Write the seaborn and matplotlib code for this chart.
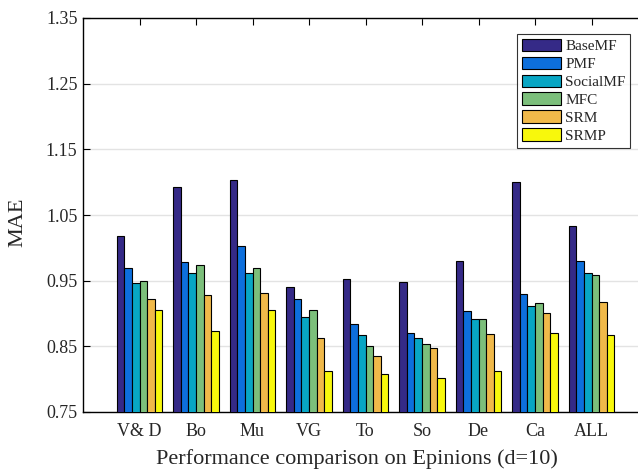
import numpy as np
import pandas as pd
import matplotlib
matplotlib.use("Agg")
import matplotlib.pyplot as plt
import seaborn as sns

categories = ["V& D", "Bo", "Mu", "VG", "To", "So", "De", "Ca", "ALL"]
methods = ["BaseMF", "PMF", "SocialMF", "MFC", "SRM", "SRMP"]
basemf   = [1.018, 1.092, 1.104, 0.941, 0.953, 0.948, 0.980, 1.101, 1.034]
pmf      = [0.970, 0.979, 1.003, 0.922, 0.884, 0.871, 0.904, 0.930, 0.980]
socialmf = [0.946, 0.962, 0.962, 0.894, 0.868, 0.863, 0.891, 0.911, 0.962]
mfc      = [0.950, 0.974, 0.970, 0.905, 0.851, 0.854, 0.892, 0.916, 0.959]
srm      = [0.922, 0.928, 0.931, 0.863, 0.836, 0.848, 0.869, 0.901, 0.918]
srmp     = [0.905, 0.874, 0.906, 0.812, 0.808, 0.802, 0.813, 0.871, 0.867]
yticks = [0.75, 0.85, 0.95, 1.05, 1.15, 1.25, 1.35]
colors = ["#352a87", "#0d6fdc", "#08a6c4", "#7cbf7b", "#f0b94a", "#f8f80c"]

series = [basemf, pmf, socialmf, mfc, srm, srmp]
rows = []
for m, vals in zip(methods, series):
    for c, v in zip(categories, vals):
        rows.append({"cat": c, "method": m, "MAE": v})
df = pd.DataFrame(rows)

sns.set_theme(style="white")
plt.rcParams["font.family"] = ["Liberation Serif", "DejaVu Serif"]

fig = plt.figure(figsize=(6.38, 4.70), dpi=100)
W, H = 638, 470
left, top, bottom = 83, 18, 412
unit = 56.5
ax = fig.add_axes([left / W, 1 - bottom / H, 10 * unit / W, (bottom - top) / H])

sns.barplot(data=df, x="cat", y="MAE", hue="method", order=categories,
            hue_order=methods, palette=colors, width=0.8, ax=ax,
            edgecolor="black", linewidth=0.8, saturation=1, zorder=3)

ax.set_xlim(-1, 9)
ax.set_ylim(0.75, 1.35)
ax.set_yticks(yticks)
ax.set_yticklabels([f"{t:.2f}" for t in yticks], fontsize=13)
ax.set_xticks(range(len(categories)))
ax.set_xticklabels(categories, fontsize=13)
ax.yaxis.grid(True, color="#e3e3e3", linewidth=1.0, zorder=0)
ax.set_axisbelow(True)
ax.tick_params(axis="x", direction="in", top=True, bottom=True, length=5,
               width=0.8, color="black", pad=8)
ax.tick_params(axis="y", direction="in", left=True, length=5, width=0.8,
               color="black", pad=4)
for s in ["left", "top", "bottom"]:
    ax.spines[s].set_visible(True)
    ax.spines[s].set_color("black")
    ax.spines[s].set_linewidth(1.0)
ax.spines["right"].set_visible(False)

ax.set_xlabel("Performance comparison on Epinions (d=10)", fontsize=16)
ax.xaxis.set_label_coords((356.5 - left) / (10 * unit), -(449 - bottom) / (bottom - top))
ax.set_ylabel("MAE", fontsize=16)
ax.yaxis.set_label_coords(-(left - 27) / (10 * unit), (bottom - 222) / (bottom - top))

leg = ax.legend(loc="upper right", bbox_to_anchor=(630 / W, 1 - 34 / H),
                bbox_transform=fig.transFigure, fontsize=11, frameon=True,
                fancybox=False, edgecolor="black", handlelength=2.6,
                handleheight=0.9, labelspacing=0.22, borderpad=0.3,
                handletextpad=0.25, borderaxespad=0)
leg.get_frame().set_linewidth(0.8)
leg.set_title(None)

fig.savefig("out.png", dpi=100)
